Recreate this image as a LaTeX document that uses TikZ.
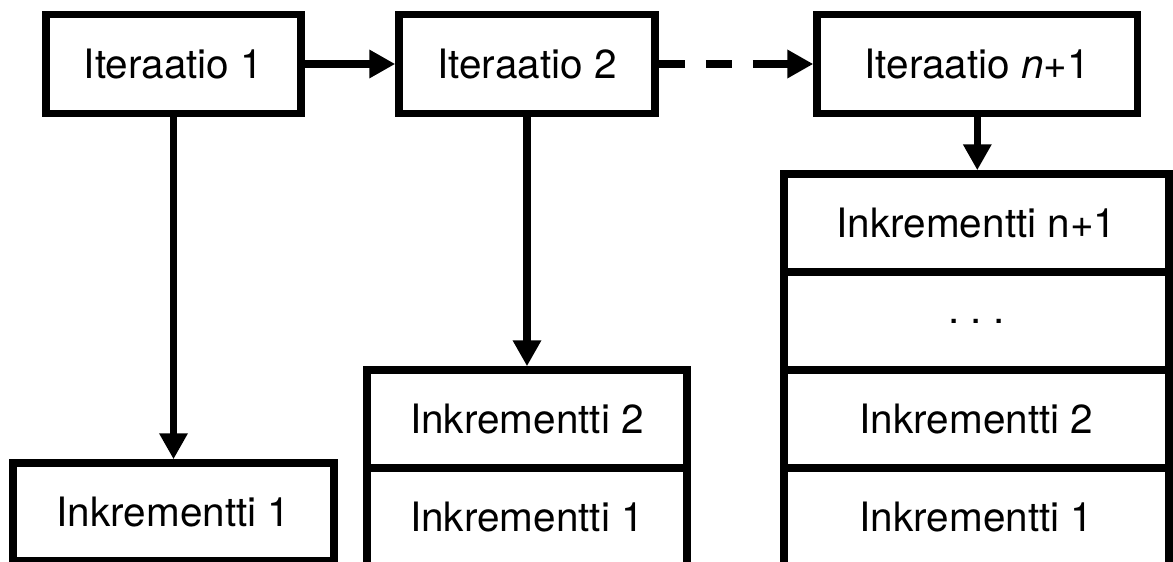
\documentclass[tikz,border=0pt]{standalone}
\usepackage{fontspec}
\setmainfont{TeX Gyre Heros}
\usetikzlibrary{arrows.meta}
\begin{document}
\begin{tikzpicture}[x=1pt,y=-1pt,
  every node/.style={font=\fontsize{40.5}{48}\selectfont},
  iterbox/.style={draw,line width=7.5pt,minimum height=99pt,inner sep=0pt},
  cell/.style={draw,line width=7.5pt,minimum height=98pt,inner sep=0pt},
  link/.style={line width=7.5pt,-{Triangle[length=26pt,width=27pt]}},
  dashedlink/.style={line width=7.5pt,dash pattern=on 26pt off 21pt},
]
% canvas; the bottom rows of the stacks run past the lower edge
\clip (0,0) rectangle (1173,562);
\fill[white] (0,0) rectangle (1173,562);

% iterations
\node[iterbox,minimum width=255pt]   (it1) at (173.5,64) {Iteraatio 1};
\node[iterbox,minimum width=256pt]   (it2) at (527,64)   {Iteraatio 2};
\node[iterbox,minimum width=320.5pt] (itn) at (977.3,64) {Iteraatio \textit{n}+1};

% increments delivered by iteration 1
\node[cell,minimum width=321pt] (a1) at (173.5,512) {Inkrementti 1};

% increments delivered by iteration 2
\node[cell,minimum width=320pt] (b2) at (527,419) {Inkrementti 2};
\node[cell,minimum width=320pt] (b1) at (527,517) {Inkrementti 1};

% increments delivered by iteration n+1
\node[cell,minimum width=385pt] (c4) at (976.5,223) {Inkrementti n+1};
\node[cell,minimum width=385pt] (c3) at (976.5,321) {.\ .\ .};
\node[cell,minimum width=385pt] (c2) at (976.5,419) {Inkrementti 2};
\node[cell,minimum width=385pt] (c1) at (976.5,517) {Inkrementti 1};

% connectors
\draw[link] (it1) -- (it2);
% dashed run from iteration 2, ending in a solid stretch with the head
\coordinate (dashend) at (753.5,64);
\draw[dashedlink] (it2.east) -- (dashend);
\draw[link] (dashend) -- (itn.west);
\draw[link] (it1) -- (a1);
\draw[link] (it2) -- (b2);
\draw[link] (itn.south) -- (itn.south |- c4.north);
\end{tikzpicture}
\end{document}
